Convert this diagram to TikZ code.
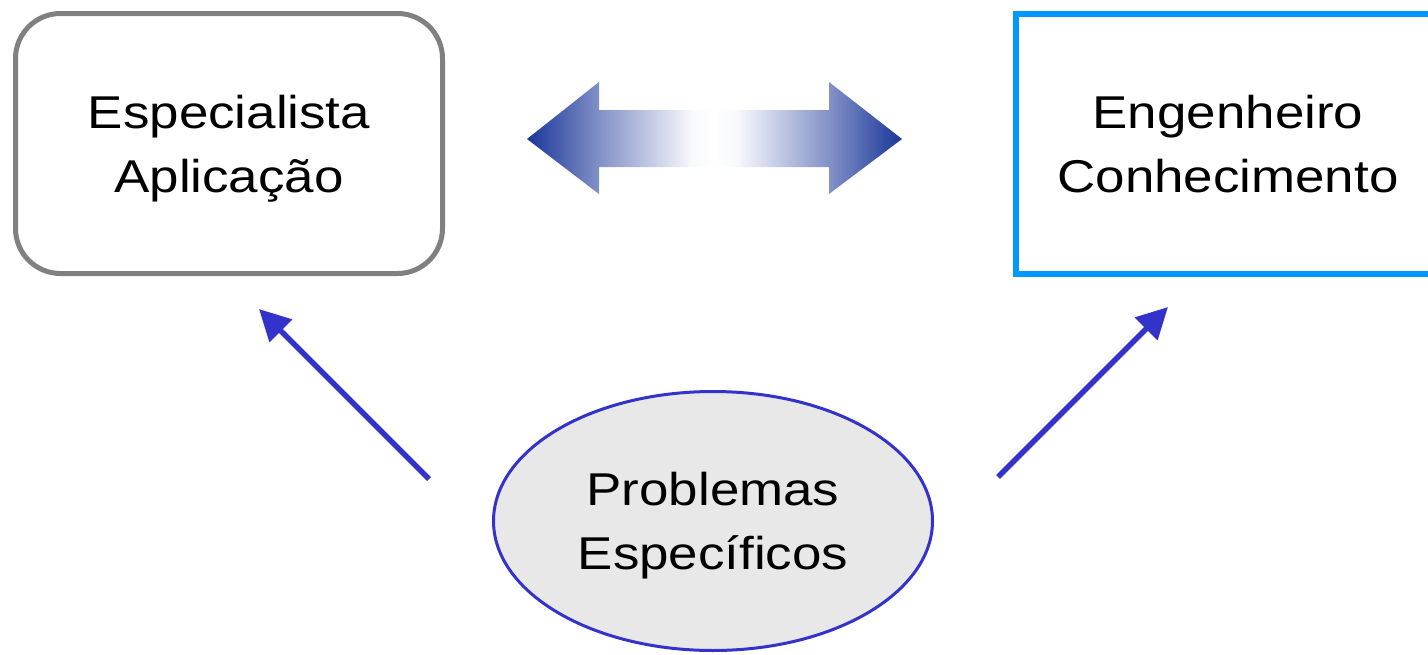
\documentclass[tikz,border=0pt]{standalone}
\usepackage{fontspec}
\setmainfont[FakeStretch=1.15]{Liberation Sans}
\usetikzlibrary{shapes.geometric,arrows.meta}
\definecolor{boxgray}{HTML}{808080}
\definecolor{boxblue}{HTML}{0099FF}
\definecolor{linkblue}{HTML}{3333CC}
\definecolor{shadeblue}{HTML}{1A3699}
\definecolor{probfill}{HTML}{E8E8E8}
\pgfdeclarehorizontalshading{exchange}{100bp}{color(0bp)=(shadeblue); color(25bp)=(shadeblue);
	color(34.6bp)=(shadeblue!55); color(47bp)=(shadeblue!3); color(50bp)=(white); color(53bp)=(shadeblue!3);
	color(65.4bp)=(shadeblue!55); color(75bp)=(shadeblue); color(100bp)=(shadeblue)}
\begin{document}
\begin{tikzpicture}[x=1pt,y=-1pt,
		label/.style={align=center,text depth=0pt,font=\fontsize{46}{64}\selectfont},
		actor/.style={label,draw,line width=5pt,minimum width=427pt,minimum height=260pt,inner sep=0pt},
		feed/.style={draw=linkblue,line width=5.5pt,-{Triangle[length=31pt,width=31pt]}}]
		\useasboundingbox (0,0) rectangle (1428,654);
		\node[actor,draw=boxgray,rounded corners=45pt] (expert) at (229,143.5) {Especialista\\Aplicação};
		\node[actor,draw=boxblue,line width=6pt,minimum width=424pt] (engineer) at (1228,143.5) {Engenheiro\\Conhecimento};
		\node[label,ellipse,draw=linkblue,line width=3pt,fill=probfill,minimum width=439pt,minimum height=259pt,inner sep=0pt] (problems) at (713,521) {Problemas\\Específicos};
		
		% two-way exchange
		\shade[shading=exchange]
			(527,139) -- (599,82) -- (599,110) -- (829,110) -- (829,82) -- (902,139)
			-- (829,194) -- (829,167) -- (599,167) -- (599,194) -- cycle;
		
		\coordinate (lfrom) at (429,479);
		\coordinate (lto) at (259,309);
		\coordinate (rfrom) at (998,477);
		\coordinate (rto) at (1168,307);
		\draw[feed] (lfrom) -- (lto);
		\draw[feed] (rfrom) -- (rto);
		
		\end{tikzpicture}
\end{document}
